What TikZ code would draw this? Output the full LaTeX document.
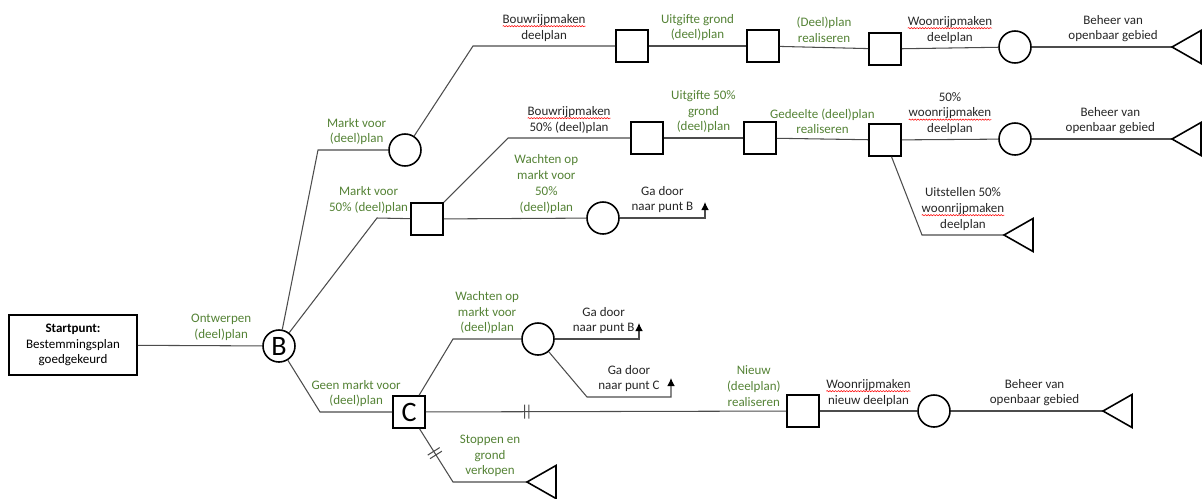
\documentclass[tikz,border=0pt]{standalone}
\usepackage{fontspec}
\setmainfont{Carlito}
\usepackage{tikz}
\usetikzlibrary{shapes,arrows.meta,decorations.markings,decorations.pathmorphing}
\definecolor{groen}{RGB}{84,130,53}
\newcommand\spel[1]{\tikz[baseline=(w.base)]{\node[anchor=base, inner sep=0pt, outer sep=0pt, draw=none] (w) at (0,0) {#1};
    \draw[red, line width=0.3pt, decorate, decoration={snake, amplitude=0.35pt, segment length=1.6pt}] ([yshift=-1.6pt]w.base west) -- ([yshift=-1.6pt]w.base east);}}

\begin{document}
\begin{tikzpicture}[x=0.02cm, y=-0.02cm, >={Latex[length=4.6pt,width=4.4pt,black]}]
        % Stijlen
        \tikzstyle{lijn} = [draw=black!70, line width=0.6pt]
        \tikzstyle{beslis} = [draw, rectangle, line width=0.9pt, minimum size=0.64cm, inner sep=0pt]
        \tikzstyle{kans} = [draw, circle, line width=0.9pt, minimum size=0.64cm, inner sep=0pt]
        \tikzstyle{eind} = [draw, line width=0.9pt]
        \tikzstyle{tekst} = [above, align=center, inner sep=2.5pt, font=\fontsize{7.4}{9}\selectfont]
        \tikzstyle{actie} = [tekst, text=groen]
        \tikzstyle{gebeurtenis} = [tekst, text=black!85]
        \tikzset{blok/.style={postaction={decorate, decoration={markings,
            mark=at position #1 with {\draw[black!70, line width=0.6pt] (-1.2pt,-4pt) -- (-1.2pt,4pt) (1.2pt,-4pt) -- (1.2pt,4pt);}}}}}

        \useasboundingbox (0,0) rectangle (1203,498);

        % Knopen
        \node [draw, line width=0.9pt, minimum width=2.56cm, minimum height=1.2cm, align=center,
               font=\fontsize{7.4}{9}\selectfont] (start) at (73,345) {\textbf{Startpunt:}\\Bestemmingsplan\\goedgekeurd};
        \node [kans, font=\fontsize{16}{16}\selectfont] (B) at (279,346) {B};
        \node [beslis, font=\fontsize{16}{16}\selectfont] (C) at (409,412) {C};

        \node [kans] (markt1) at (405,150) {};
        \node [beslis] (markt2) at (427,219) {};

        \node [beslis] (top1) at (632,46) {};
        \node [beslis] (top2) at (763,46) {};
        \node [beslis] (top3) at (885,49) {};
        \node [kans] (top4) at (1015,47) {};
        \coordinate (topeind) at (1172,47);

        \node [beslis] (rij1) at (647,138) {};
        \node [beslis] (rij2) at (760,138) {};
        \node [beslis] (rij3) at (885,140) {};
        \node [kans] (rij4) at (1015,139) {};
        \coordinate (rijeind) at (1172,139);
        \coordinate (uitsteleind) at (1004,235);

        \node [kans] (wacht1) at (603,218) {};
        \node [kans] (wacht2) at (538,339) {};

        \node [beslis] (nieuw1) at (803,411) {};
        \node [kans] (nieuw2) at (934,411) {};
        \coordinate (nieuweind) at (1103,411);
        \coordinate (stopeind) at (527,482);

        % Hulppunten
        \coordinate (k1) at (318,150);
        \coordinate (k2) at (377,218);
        \coordinate (k3) at (320,412);
        \coordinate (k4) at (473,46);
        \coordinate (k5) at (508,138);
        \coordinate (k6) at (922,235);
        \coordinate (k7) at (705,218);
        \coordinate (naarB1) at (705,202);
        \coordinate (k8) at (453,339);
        \coordinate (k9) at (639,339);
        \coordinate (naarB2) at (639,323);
        \coordinate (k10) at (587,397);
        \coordinate (k11) at (671,397);
        \coordinate (naarC) at (671,378);
        \coordinate (k12) at (453,482);

        % Verbindingen
        \draw [lijn] (start) -- node [actie, pos=0.67] (ontwerpen) {Ontwerpen\\(deel)plan} (B);
        \draw [lijn] (B) -- (k1) -- node [actie, pos=0.55] (lmarkt1) {Markt voor\\(deel)plan} (markt1);
        \draw [lijn] (B) -- (k2) -- node [actie, xshift=-0.5cm] (lmarkt2) {Markt voor\\50\% (deel)plan} (markt2);
        \draw [lijn] (B) -- (k3) -- node [actie] (geenmarkt) {Geen markt voor\\(deel)plan} (C);

        \draw [lijn] (markt1) -- (k4) -- node [gebeurtenis] (bouw1) {\spel{Bouwrijpmaken}\\deelplan} (top1);
        \draw [lijn] (top1) -- node [actie] (uitgifte1) {Uitgifte grond\\(deel)plan} (top2);
        \draw [lijn] (top2) -- node [actie] (real1) {(Deel)plan\\realiseren} (top3);
        \draw [lijn] (top3) -- node [gebeurtenis] (woon1) {\spel{Woonrijpmaken}\\deelplan} (top4);
        \draw [lijn] (top4) -- node [gebeurtenis, pos=0.58] (beheer1) {Beheer van\\openbaar gebied} (topeind);

        \draw [lijn] (markt2) -- (k5) -- node [gebeurtenis] (bouw2) {\spel{Bouwrijpmaken}\\50\% (deel)plan} (rij1);
        \draw [lijn] (rij1) -- node [actie] (uitgifte2) {Uitgifte 50\%\\grond\\(deel)plan} (rij2);
        \draw [lijn] (rij2) -- node [actie] (real2) {Gedeelte (deel)plan\\realiseren} (rij3);
        \draw [lijn] (rij3) -- node [gebeurtenis] (woon2) {50\%\\\spel{woonrijpmaken}\\deelplan} (rij4);
        \draw [lijn] (rij4) -- node [gebeurtenis, pos=0.56] (beheer2) {Beheer van\\openbaar gebied} (rijeind);
        \draw [lijn] (rij3) -- (k6) -- node [gebeurtenis] (uitstel) {Uitstellen 50\%\\\spel{woonrijpmaken}\\deelplan} (uitsteleind);

        \draw [lijn] (markt2) -- node [actie, pos=0.72] (wachten1) {Wachten op\\markt voor\\50\%\\(deel)plan} (wacht1);
        \draw [lijn, ->] (wacht1) -- node [gebeurtenis] (gadoor1) {Ga door\\naar punt B} (k7) -- (naarB1);

        \draw [lijn] (C) -- (k8) -- node [actie] (wachten2) {Wachten op\\markt voor\\(deel)plan} (wacht2);
        \draw [lijn, ->] (wacht2) -- node [gebeurtenis, pos=0.58] (gadoor2) {Ga door\\naar punt B} (k9) -- (naarB2);
        \draw [lijn, ->] (wacht2) -- (k10) -- node [gebeurtenis] (gadoor3) {Ga door\\naar punt C} (k11) -- (naarC);

        \draw [lijn, blok=0.28] (C) -- node [actie, pos=0.91] (nieuw) {Nieuw\\(deelplan)\\realiseren} (nieuw1);
        \draw [lijn] (nieuw1) -- node [gebeurtenis] (woon3) {\spel{Woonrijpmaken}\\nieuw deelplan} (nieuw2);
        \draw [lijn] (nieuw2) -- node [gebeurtenis, pos=0.55] (beheer3) {Beheer van\\openbaar gebied} (nieuweind);
        \draw [lijn, blok=0.21] (C) -- (k12) -- node [actie] (stoppen) {Stoppen en\\grond\\verkopen} (stopeind);

        % Eindpunten
        \foreach \e in {topeind, rijeind, uitsteleind, nieuweind, stopeind}
            \draw [eind] (\e) -- ++(29,-16.5) -- ++(0,33) -- cycle;

    \end{tikzpicture}
\end{document}
